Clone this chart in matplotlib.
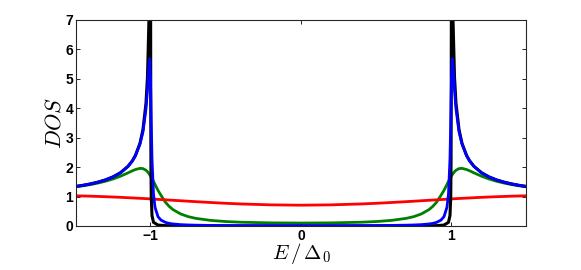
import matplotlib
matplotlib.use('Agg')
import matplotlib.pyplot as plt

# Energy grid (E / Delta_0) shared by the broadened curves
energy = [-1.5, -1.45, -1.4, -1.35, -1.3, -1.25, -1.2, -1.15, -1.12, -1.1, -1.07, -1.05, -1.03,
          -1.02, -1.01, -1.005, -1.0, -0.995, -0.99, -0.98, -0.97, -0.95, -0.93, -0.9, -0.875,
          -0.85, -0.8, -0.75, -0.7, -0.6, -0.5, -0.4, -0.2,
          0.0,
          0.2, 0.4, 0.5, 0.6, 0.7, 0.75, 0.8, 0.85, 0.875, 0.9, 0.93, 0.95, 0.97, 0.98, 0.99,
          0.995, 1.0, 1.005, 1.01, 1.02, 1.03, 1.05, 1.07, 1.1, 1.12, 1.15, 1.2, 1.25, 1.3,
          1.35, 1.4, 1.45, 1.5]

dos_blue = [1.341, 1.380, 1.428, 1.488, 1.563, 1.665, 1.806, 2.02, 2.21, 2.39, 2.78, 3.2, 3.98,
            4.62, 5.49, 5.69, 5.0, 3.515, 2.275, 1.086, 0.637, 0.315, 0.20, 0.121, 0.088,
            0.068, 0.046, 0.0346, 0.0275, 0.0195, 0.0154, 0.013, 0.0106,
            0.010,
            0.0106, 0.013, 0.0154, 0.0195, 0.0275, 0.0346, 0.046, 0.068, 0.088, 0.121, 0.20, 0.315,
            0.637, 1.086, 2.275, 3.515, 5.0, 5.69, 5.49, 4.62, 3.98, 3.2, 2.78, 2.39, 2.21, 2.02,
            1.806, 1.665, 1.563, 1.488, 1.428, 1.380, 1.341]

dos_green = [1.329, 1.365, 1.407, 1.458, 1.520, 1.596, 1.691, 1.804, 1.876, 1.919, 1.958, 1.950,
             1.894, 1.845, 1.78, 1.74, 1.702, 1.655, 1.61, 1.514, 1.41, 1.209, 1.04, 0.802, 0.662,
             0.555, 0.410, 0.319, 0.260, 0.190, 0.151, 0.128, 0.1056,
             0.0995,
             0.1056, 0.128, 0.151, 0.190, 0.260, 0.319, 0.410, 0.555, 0.662, 0.802, 1.04, 1.209,
             1.41, 1.514, 1.61, 1.655, 1.702, 1.74, 1.78, 1.845, 1.894, 1.950, 1.958, 1.919, 1.876,
             1.804, 1.691, 1.596, 1.520, 1.458, 1.407, 1.365, 1.329]

dos_red = [1.026, 1.020, 1.013, 1.004, 0.995, 0.985, 0.974, 0.961, 0.953, 0.948, 0.940, 0.935,
           0.929, 0.926, 0.923, 0.922, 0.920, 0.919, 0.917, 0.914, 0.911, 0.904, 0.898, 0.889,
           0.881, 0.873, 0.858, 0.842, 0.827, 0.798, 0.771, 0.749, 0.718,
           0.707,
           0.718, 0.749, 0.771, 0.798, 0.827, 0.842, 0.858, 0.873, 0.881, 0.889, 0.898, 0.904,
           0.911, 0.914, 0.917, 0.919, 0.920, 0.922, 0.923, 0.926, 0.929, 0.935, 0.940, 0.948,
           0.953, 0.961, 0.974, 0.985, 0.995, 1.004, 1.013, 1.020, 1.026]

# Nearly sharp BCS curve needs a finer grid around the gap edges
energy_black = [-1.5, -1.45, -1.4, -1.35, -1.3, -1.25, -1.2, -1.15, -1.12, -1.1, -1.07, -1.05,
                -1.03, -1.02, -1.01, -1.005, -1.002, -1.001, -1.0, -0.999, -0.998, -0.997,
                -0.995, -0.99, -0.98, -0.95, -0.9, -0.8, -0.5,
                0.0,
                0.5, 0.8, 0.9, 0.95, 0.98, 0.99, 0.995, 0.997, 0.998, 0.999, 1.0, 1.001, 1.002,
                1.005, 1.01, 1.02, 1.03, 1.05, 1.07, 1.1, 1.12, 1.15, 1.2, 1.25, 1.3, 1.35, 1.4,
                1.45, 1.5]

dos_black = [1.342, 1.381, 1.429, 1.489, 1.565, 1.667, 1.809, 2.025, 2.22, 2.40, 2.81, 3.28,
             4.17, 5.07, 7.06, 9.85, 14.55, 17.4, 15.8, 7.2, 3.43, 2.01,
             0.975, 0.353, 0.125, 0.031, 0.012, 0.0046, 0.0015,
             0.001,
             0.0015, 0.0046, 0.012, 0.031, 0.125, 0.353, 0.975, 2.01, 3.43, 7.2, 15.8, 17.4, 14.55,
             9.85, 7.06, 5.07, 4.17, 3.28, 2.81, 2.40, 2.22, 2.025, 1.809, 1.667, 1.565, 1.489, 1.429,
             1.381, 1.342]

x_ticks = [-1, 0, 1]
y_ticks = [0, 1, 2, 3, 4, 5, 6, 7]


def plot_dos(filename="out.png"):
    """Draw the density of states curves and save them."""
    fig = plt.figure(figsize=(5.81, 2.70), dpi=100)
    ax = fig.add_axes([0.1308, 0.163, 0.7745, 0.763])

    ax.plot(energy, dos_green, color=(0.0, 0.5, 0.0), linewidth=2)
    ax.plot(energy, dos_red, color='r', linewidth=2)
    ax.plot(energy_black, dos_black, color='k', linewidth=2.2)
    ax.plot(energy, dos_blue, color='b', linewidth=2)

    ax.set_xlim(-1.495, 1.495)
    ax.set_ylim(0, 7)
    ax.set_xticks(x_ticks)
    ax.set_yticks(y_ticks)

    tick_font = {'family': 'Liberation Sans', 'weight': 'bold', 'size': 10}
    ax.set_xticklabels([str(t).replace('-', '\u2212') for t in x_ticks], fontdict=tick_font)
    ax.set_yticklabels([str(t) for t in y_ticks], fontdict=tick_font)
    ax.tick_params(direction='in', length=3, width=0.6, top=True, right=True, pad=2)
    for spine in ax.spines.values():
        spine.set_linewidth(0.8)
        spine.set_color('#262626')

    ax.set_xlabel(r'$E\,/\,\Delta_0$', fontsize=15, labelpad=-1)
    ax.set_ylabel(r'$DOS$', fontsize=16, labelpad=1)

    fig.savefig(filename, dpi=100)
    print(f"Plot saved at {filename}")


def main():
    plt.rcParams['mathtext.fontset'] = 'cm'
    plot_dos()


if __name__ == "__main__":
    main()
